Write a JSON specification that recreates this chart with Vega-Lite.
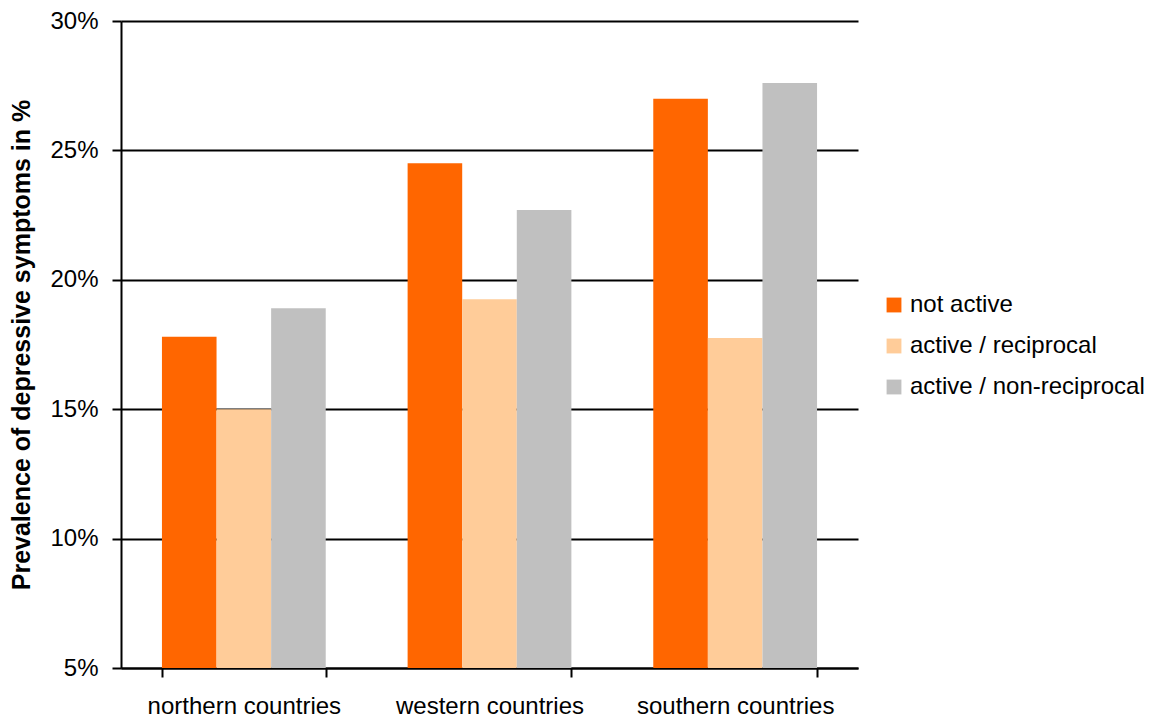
{
  "$schema": "https://vega.github.io/schema/vega-lite/v6.json",
  "autosize": "none",
  "width": 737,
  "height": 647,
  "padding": {"left": 121, "top": 21, "right": 309, "bottom": 53},
  "background": "white",
  "config": {
    "font": "Liberation Sans",
    "view": {"stroke": null}
  },
  "data": {
    "values": [
      {"region": "northern countries", "group": "not active", "value": 17.8},
      {"region": "northern countries", "group": "active / reciprocal", "value": 15.0},
      {"region": "northern countries", "group": "active / non-reciprocal", "value": 18.9},
      {"region": "western countries", "group": "not active", "value": 24.5},
      {"region": "western countries", "group": "active / reciprocal", "value": 19.25},
      {"region": "western countries", "group": "active / non-reciprocal", "value": 22.7},
      {"region": "southern countries", "group": "not active", "value": 27.0},
      {"region": "southern countries", "group": "active / reciprocal", "value": 17.75},
      {"region": "southern countries", "group": "active / non-reciprocal", "value": 27.6}
    ]
  },
  "mark": {"type": "bar", "clip": true},
  "encoding": {
    "x": {
      "field": "region",
      "type": "nominal",
      "sort": ["northern countries", "western countries", "southern countries"],
      "scale": {"paddingInner": 0.3333, "paddingOuter": 0.1667},
      "axis": {
        "title": null,
        "labelAngle": 0,
        "labelFontSize": 24,
        "labelColor": "black",
        "labelPadding": 17,
        "labelLimit": 0,
        "tickBand": "extent",
        "tickColor": "black",
        "tickWidth": 2,
        "tickSize": 9,
        "domainColor": "black",
        "domainWidth": 2,
        "grid": false
      }
    },
    "xOffset": {
      "field": "group",
      "type": "nominal",
      "sort": ["not active", "active / reciprocal", "active / non-reciprocal"],
      "scale": {"paddingInner": 0, "paddingOuter": 0}
    },
    "y": {
      "field": "value",
      "type": "quantitative",
      "scale": {"domain": [5, 30], "nice": false, "zero": false},
      "axis": {
        "title": "Prevalence of depressive symptoms in %",
        "titleFontSize": 25,
        "titleFontWeight": "bold",
        "titleColor": "black",
        "titlePadding": 15,
        "values": [5, 10, 15, 20, 25, 30],
        "labelExpr": "datum.value + '%'",
        "labelFontSize": 24,
        "labelColor": "black",
        "labelPadding": 14,
        "tickColor": "black",
        "tickWidth": 2,
        "tickSize": 9,
        "domainColor": "black",
        "domainWidth": 2,
        "grid": true,
        "gridColor": "black",
        "gridWidth": 2
      }
    },
    "color": {
      "field": "group",
      "type": "nominal",
      "sort": ["not active", "active / reciprocal", "active / non-reciprocal"],
      "scale": {
        "domain": ["not active", "active / reciprocal", "active / non-reciprocal"],
        "range": ["#FF6600", "#FFCC99", "#C0C0C0"]
      },
      "legend": {
        "title": null,
        "orient": "none",
        "legendX": 761,
        "legendY": 272,
        "symbolType": "square",
        "symbolSize": 220,
        "symbolStrokeWidth": 0,
        "labelFontSize": 24,
        "labelColor": "black",
        "labelOffset": 4,
        "labelLimit": 0,
        "rowPadding": 17
      }
    }
  }
}
